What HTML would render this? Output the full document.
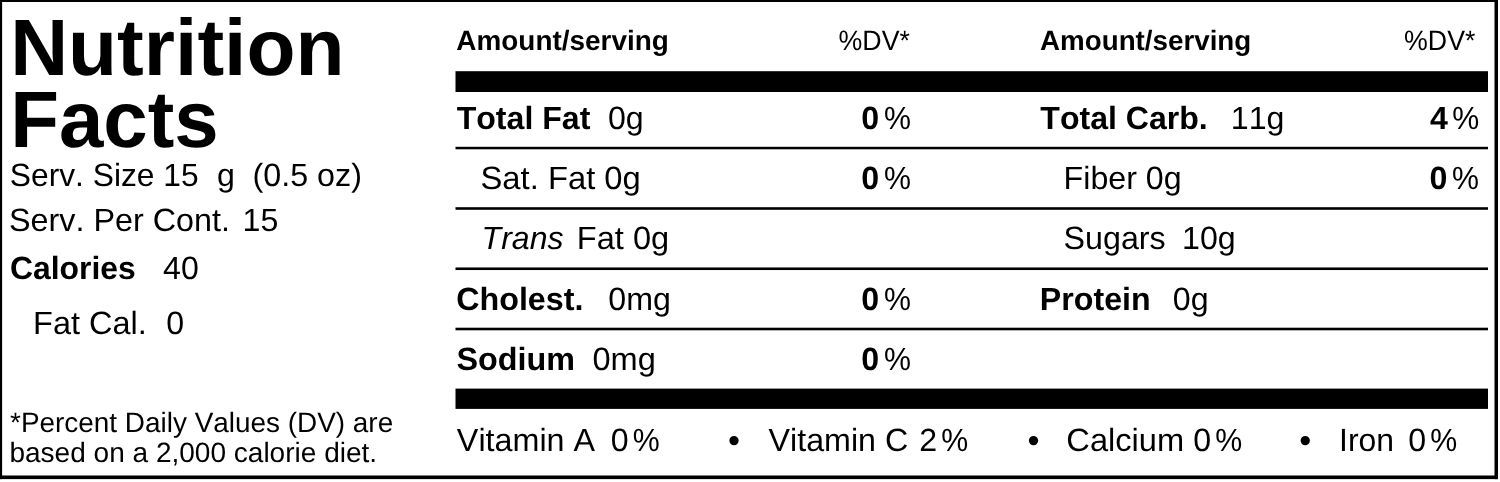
<!DOCTYPE html>
<html lang="en">
<head>
<meta charset="utf-8">
<title>Nutrition Facts</title>
<style>
html,body{margin:0;padding:0;background:#fff;}
body{width:1500px;height:482px;overflow:hidden;}
svg{display:block;will-change:transform;filter:grayscale(1);}
text{font-family:"Liberation Sans",sans-serif;fill:#000;white-space:pre;font-kerning:none;font-variant-ligatures:none;text-rendering:geometricPrecision;}
.b{font-weight:700}.i{font-style:italic}
</style>
</head>
<body>
<svg width="1500" height="482" viewBox="0 0 1500 482">
<rect x="0" y="0" width="1500" height="482" fill="#fff"/>
<rect x="0" y="0" width="1498" height="2" fill="#000"/>
<rect x="0" y="0" width="2.1" height="479.1" fill="#000"/>
<rect x="1494.5" y="0" width="3.5" height="479.1" fill="#000"/>
<rect x="0" y="475.5" width="1498" height="3.6" fill="#000"/>
<rect x="455.5" y="71.2" width="1032.5" height="20.8" fill="#000"/>
<rect x="455.5" y="388.6" width="1032.5" height="20.3" fill="#000"/>
<rect x="455.5" y="146.8" width="1032.5" height="2.5" fill="#000"/>
<rect x="455.5" y="207.2" width="1032.5" height="2.6" fill="#000"/>
<rect x="455.5" y="267.45" width="1032.5" height="2.6" fill="#000"/>
<rect x="455.5" y="327.7" width="1032.5" height="2.6" fill="#000"/>
<text class="b" transform="translate(10.13 74.70) scale(1.0021 1)" font-size="80.10">Nutrition</text>
<text class="b" transform="translate(10.16 147.00) scale(0.9970 1)" font-size="80.10">Facts</text>
<text transform="translate(9.81 186.00) scale(0.9876 1)" font-size="32.15">Serv. Size 15</text>
<text transform="translate(216.97 186.00) scale(1.0000 1)" font-size="32.15">g</text>
<text transform="translate(252.50 186.00) scale(1.0047 1)" font-size="32.15">(0.5 oz)</text>
<text transform="translate(9.03 231.40) scale(1.0052 1)" font-size="32.15">Serv. Per Cont.</text>
<text transform="translate(242.57 231.40) scale(1.0000 1)" font-size="32.15">15</text>
<text class="b" transform="translate(9.94 279.40) scale(0.9921 1)" font-size="32.15">Calories</text>
<text transform="translate(163.01 279.40) scale(0.9995 1)" font-size="32.15">40</text>
<text transform="translate(33.09 334.30) scale(1.0095 1)" font-size="32.15">Fat Cal.</text>
<text transform="translate(166.31 334.30) scale(1.0000 1)" font-size="32.15">0</text>
<text transform="translate(10.05 432.30) scale(0.9990 1)" font-size="27.95">*Percent Daily Values (DV) are</text>
<text transform="translate(9.44 462.20) scale(1.0030 1)" font-size="27.95">based on a 2,000 calorie diet.</text>
<text class="b" transform="translate(456.30 50.20) scale(0.9991 1)" font-size="27.95">Amount/serving</text>
<text transform="translate(838.55 50.20) scale(0.9573 1)" font-size="27.95">%DV*</text>
<text class="b" transform="translate(1040.06 50.20) scale(0.9932 1)" font-size="27.95">Amount/serving</text>
<text transform="translate(1404.05 50.20) scale(0.9573 1)" font-size="27.95">%DV*</text>
<text class="b" transform="translate(456.64 128.80) scale(0.9985 1)" font-size="32.15">Total Fat</text>
<text transform="translate(607.90 128.80) scale(1.0000 1)" font-size="32.15">0g</text>
<text transform="translate(480.51 188.80) scale(1.0196 1)" font-size="32.15">Sat. Fat 0g</text>
<text class="i" transform="translate(481.62 248.80) scale(0.9958 1)" font-size="32.15">Trans</text>
<text transform="translate(576.83 248.80) scale(1.0123 1)" font-size="32.15">Fat 0g</text>
<text class="b" transform="translate(456.18 309.60) scale(1.0037 1)" font-size="32.15">Cholest.</text>
<text transform="translate(608.24 309.60) scale(1.0006 1)" font-size="32.15">0mg</text>
<text class="b" transform="translate(456.57 369.60) scale(1.0047 1)" font-size="32.15">Sodium</text>
<text transform="translate(592.48 369.60) scale(1.0133 1)" font-size="32.15">0mg</text>
<text class="b" transform="translate(861.33 128.80) scale(1.0000 1)" font-size="32.15">0</text>
<text transform="translate(884.02 128.80) scale(0.9430 1)" font-size="32.15">%</text>
<text class="b" transform="translate(861.33 188.80) scale(1.0000 1)" font-size="32.15">0</text>
<text transform="translate(884.02 188.80) scale(0.9430 1)" font-size="32.15">%</text>
<text class="b" transform="translate(861.33 309.60) scale(1.0000 1)" font-size="32.15">0</text>
<text transform="translate(884.02 309.60) scale(0.9430 1)" font-size="32.15">%</text>
<text class="b" transform="translate(861.33 369.60) scale(1.0000 1)" font-size="32.15">0</text>
<text transform="translate(884.02 369.60) scale(0.9430 1)" font-size="32.15">%</text>
<text class="b" transform="translate(1040.34 128.80) scale(0.9974 1)" font-size="32.15">Total Carb.</text>
<text transform="translate(1230.87 128.80) scale(1.0000 1)" font-size="32.15">11g</text>
<text transform="translate(1063.61 188.80) scale(1.0002 1)" font-size="32.15">Fiber 0g</text>
<text transform="translate(1063.54 248.80) scale(1.0026 1)" font-size="32.15">Sugars</text>
<text transform="translate(1182.12 248.80) scale(1.0000 1)" font-size="32.15">10g</text>
<text class="b" transform="translate(1039.85 309.60) scale(1.0013 1)" font-size="32.15">Protein</text>
<text transform="translate(1172.78 309.60) scale(1.0000 1)" font-size="32.15">0g</text>
<text class="b" transform="translate(1429.90 128.80) scale(1.0000 1)" font-size="32.15">4</text>
<text transform="translate(1452.27 128.80) scale(0.9430 1)" font-size="32.15">%</text>
<text class="b" transform="translate(1429.58 188.80) scale(1.0000 1)" font-size="32.15">0</text>
<text transform="translate(1452.07 188.80) scale(0.9430 1)" font-size="32.15">%</text>
<text transform="translate(456.86 451.20) scale(1.0045 1)" font-size="32.15">Vitamin A</text>
<text transform="translate(610.81 451.20) scale(1.0000 1)" font-size="32.15">0</text>
<text transform="translate(632.77 451.20) scale(0.9430 1)" font-size="32.15">%</text>
<text transform="translate(768.61 451.20) scale(1.0019 1)" font-size="32.15">Vitamin C</text>
<text transform="translate(919.18 451.20) scale(1.0000 1)" font-size="32.15">2</text>
<text transform="translate(941.27 451.20) scale(0.9430 1)" font-size="32.15">%</text>
<text transform="translate(1066.34 451.20) scale(1.0145 1)" font-size="32.15">Calcium</text>
<text transform="translate(1193.31 451.20) scale(1.0000 1)" font-size="32.15">0</text>
<text transform="translate(1215.27 451.20) scale(0.9430 1)" font-size="32.15">%</text>
<text transform="translate(1339.05 451.20) scale(0.9932 1)" font-size="32.15">Iron</text>
<text transform="translate(1408.31 451.20) scale(1.0000 1)" font-size="32.15">0</text>
<text transform="translate(1430.27 451.20) scale(0.9430 1)" font-size="32.15">%</text>
<text transform="translate(727.99 451.97) scale(1.0000 1)" font-size="34.32">•</text>
<text transform="translate(1027.39 451.97) scale(1.0000 1)" font-size="34.32">•</text>
<text transform="translate(1299.24 451.97) scale(1.0000 1)" font-size="34.32">•</text>
</svg>
</body>
</html>
